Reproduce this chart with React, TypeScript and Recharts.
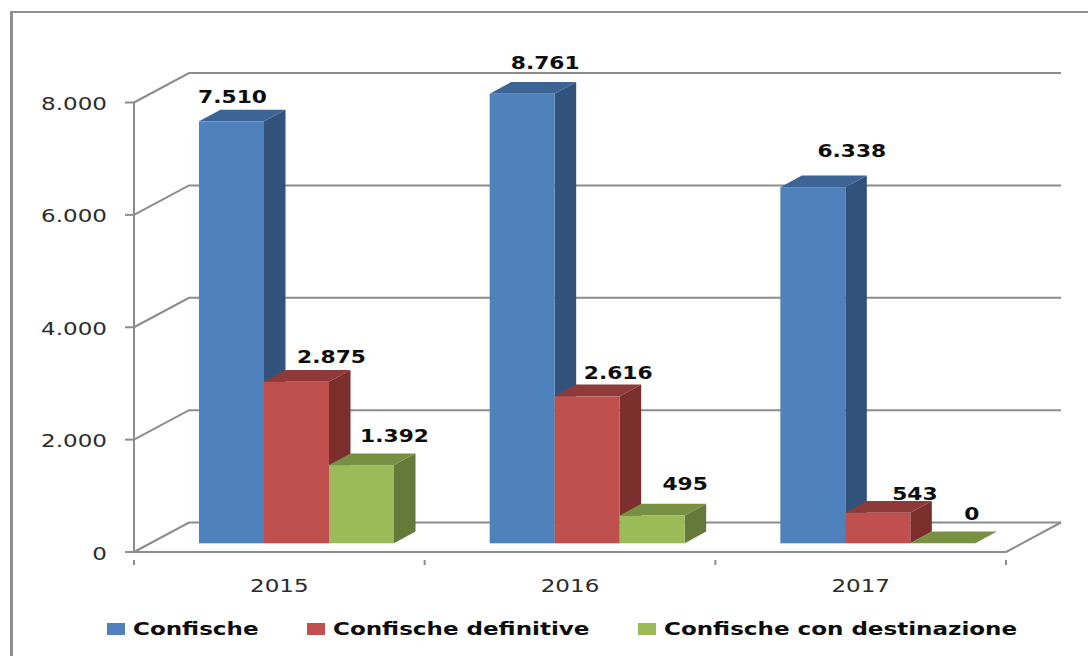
import * as React from "react"
import { Bar, BarChart, CartesianGrid, LabelList, Legend, XAxis, YAxis } from "recharts"

const years = ["2015", "2016", "2017"]
const confische = [7510, 8761, 6338]
const definitive = [2875, 2616, 543]
const destinazione = [1392, 495, 0]
const yTicks = [0, 2000, 4000, 6000, 8000]

// the value axis stops at 8.000, taller bars are cut there but keep their real label
const axisMax = 8000

const data = years.map((year, i) => ({
  year,
  confische: Math.min(confische[i], axisMax),
  confischeLabel: confische[i],
  definitive: definitive[i],
  destinazione: destinazione[i],
}))

const plot = { left: 134, right: 1006, top: 102.5, bottom: 552 }
const wall = { dx: 55, dy: -29.5 } // back wall offset
const barShift = { dx: 17, dy: -8.7 } // bars stand in the middle of the floor
const depth = { dx: 21.5, dy: -11.7 }
const gridColor = "#8c8c8c"
const textStretch = 1.28

const legendX = [107, 307, 638]

// Excel moved these labels by hand: offset from the middle of the bar front
const confischeNudge = [[1, -18], [23, -25], [39, -30]]
const definitiveNudge = [[35, -19], [31, -17], [37, -13]]
const destinazioneNudge = [[33, -23], [33, -25], [29, -23]]

const formatValue = (value: number) => String(value).replace(/\B(?=(\d{3})+$)/g, ".")

function WideText({ x, y, anchor = "middle", size = 18, bold = false, fill = "#2b2b2b", children }: any) {
  return (
    <text
      transform={`translate(${x} ${y}) scale(${textStretch} 1)`}
      textAnchor={anchor}
      fontFamily="DejaVu Sans"
      fontSize={size}
      fontWeight={bold ? 700 : 400}
      fill={fill}
    >
      {children}
    </text>
  )
}

const makeBox = (front: string, top: string, side: string) => (props: any) => {
  const x = props.x + barShift.dx
  const y = props.y + barShift.dy
  const { width, height } = props
  const right = x + width
  const bottom = y + height
  return (
    <g>
      <polygon
        points={`${right},${y} ${right + depth.dx},${y + depth.dy} ${right + depth.dx},${bottom + depth.dy} ${right},${bottom}`}
        fill={side}
      />
      <polygon
        points={`${x},${y} ${x + depth.dx},${y + depth.dy} ${right + depth.dx},${y + depth.dy} ${right},${y}`}
        fill={top}
      />
      <rect x={x} y={y} width={width} height={height} fill={front} />
    </g>
  )
}

const makeLabel = (nudge: number[][]) => (props: any) => {
  const { x, y, width, value, index } = props
  return (
    <WideText
      x={x + barShift.dx + width / 2 + nudge[index][0]}
      y={y + barShift.dy + nudge[index][1]}
      bold
      size={17}
      fill="#0d0d0d"
    >
      {formatValue(value)}
    </WideText>
  )
}

// floor and wall lines, drawn from the front axis position of each tick
const wallLine = ({ x1, x2, y1 }: any) => {
  const backY = y1 + wall.dy
  return (
    <g key={y1} stroke={gridColor} strokeWidth={2} fill="none">
      <polyline points={`${x1},${y1} ${x1 + wall.dx},${backY} ${x2 + wall.dx},${backY}`} />
      {Math.abs(y1 - plot.bottom) < 1 && <line x1={x2} y1={y1} x2={x2 + wall.dx} y2={backY} />}
    </g>
  )
}

const YearTick = ({ x, y, payload, index }: any) => {
  const band = (plot.right - plot.left) / years.length
  return (
    <g>
      <line x1={x - band / 2} y1={y} x2={x - band / 2} y2={y + 5} stroke={gridColor} strokeWidth={2} />
      {index === years.length - 1 && (
        <line x1={x + band / 2} y1={y} x2={x + band / 2} y2={y + 5} stroke={gridColor} strokeWidth={2} />
      )}
      <WideText x={x} y={y + 32}>{payload.value}</WideText>
    </g>
  )
}

const ValueTick = ({ x, y, payload }: any) => (
  <g>
    <line x1={x - 1} y1={y} x2={x + 8} y2={y} stroke={gridColor} strokeWidth={2} />
    <WideText x={x - 19} y={y + 7.5} anchor="end">{formatValue(payload.value)}</WideText>
  </g>
)

const ChartLegend = ({ payload }: any) => (
  <svg width={1088} height={40} style={{ display: "block" }}>
    {payload.map((entry: any, i: number) => (
      <g key={entry.value}>
        <rect x={legendX[i]} y={13} width={18} height={12} fill={entry.color} />
        <WideText x={legendX[i] + 26} y={25} anchor="start" bold fill="#0d0d0d">{entry.value}</WideText>
      </g>
    ))}
  </svg>
)

export default function App() {
  return (
    <div style={{ position: "absolute", left: 0, top: 0, width: 1088, height: 656, overflow: "hidden", background: "#fff" }}>
      <div
        style={{
          position: "absolute",
          left: 10,
          top: 11,
          right: -10,
          bottom: -10,
          borderLeft: "3px solid #8f8f8f",
          borderTop: "2px solid #8f8f8f",
        }}
      />
      <div style={{ position: "absolute", left: 0, top: 0 }}>
        <BarChart
          width={1088}
          height={656}
          data={data}
          barSize={65}
          barGap={0}
          barCategoryGap={0}
          margin={{ top: plot.top, right: 1088 - plot.right, bottom: 0, left: 0 }}
        >
          <CartesianGrid horizontal={wallLine} vertical={false} />
          <XAxis
            dataKey="year"
            height={656 - plot.bottom}
            tick={YearTick}
            tickLine={false}
            axisLine={{ stroke: gridColor, strokeWidth: 2 }}
          />
          <YAxis
            width={plot.left}
            domain={[0, axisMax]}
            ticks={yTicks}
            interval={0}
            tick={ValueTick}
            tickLine={false}
            axisLine={{ stroke: gridColor, strokeWidth: 2 }}
          />
          <Legend
            layout="horizontal"
            verticalAlign="middle"
            align="center"
            itemSorter={null}
            content={ChartLegend}
            wrapperStyle={{ left: 0, top: 610, width: 1088, height: 40 }}
          />
          <Bar
            dataKey="confische"
            name="Confische"
            fill="#4f81bd"
            isAnimationActive={false}
            shape={makeBox("#4f81bd", "#3c6595", "#31527a")}
          >
            <LabelList dataKey="confischeLabel" content={makeLabel(confischeNudge)} />
          </Bar>
          <Bar
            dataKey="definitive"
            name="Confische definitive"
            fill="#c0504d"
            isAnimationActive={false}
            shape={makeBox("#c0504d", "#8e3a38", "#7a2f2d")}
          >
            <LabelList dataKey="definitive" content={makeLabel(definitiveNudge)} />
          </Bar>
          <Bar
            dataKey="destinazione"
            name="Confische con destinazione"
            fill="#9bbb59"
            isAnimationActive={false}
            shape={makeBox("#9bbb59", "#779043", "#657a3a")}
          >
            <LabelList dataKey="destinazione" content={makeLabel(destinazioneNudge)} />
          </Bar>
        </BarChart>
      </div>
    </div>
  )
}
